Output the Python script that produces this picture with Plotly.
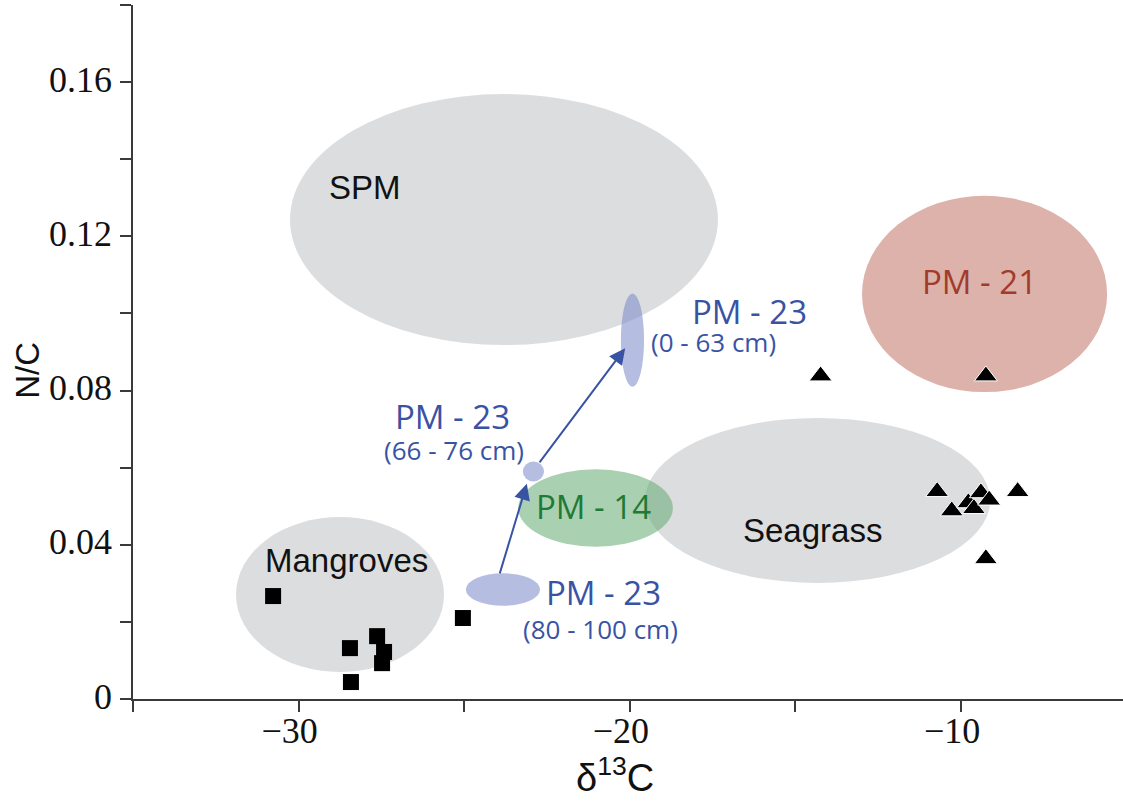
import plotly.graph_objects as go

# ---- data ----
mangrove_x = [-30.77, -28.45, -28.42, -27.63, -27.42, -27.48, -25.04]
mangrove_y = [0.0267, 0.0132, 0.0044, 0.0163, 0.0122, 0.0093, 0.0210]

seagrass_x = [-14.24, -9.25, -10.72, -10.28, -9.78, -9.61, -9.40, -9.15, -8.29, -9.25]
seagrass_y = [0.0838, 0.0838, 0.0538, 0.0488, 0.0509, 0.0494, 0.0535, 0.0516, 0.0538, 0.0364]

# ellipse regions: name, x0, x1, y0, y1
region_names = ["SPM", "Mangroves", "Seagrass", "PM-21", "PM-14",
                "PM-23 80-100", "PM-23 66-76", "PM-23 0-63"]
region_x0 = [-30.26, -31.89, -19.54, -12.99, -23.37, -24.95, -23.23, -20.27]
region_x1 = [-17.34, -25.61, -9.12, -5.59, -18.70, -22.71, -22.59, -19.57]
region_y0 = [0.0918, 0.0070, 0.0301, 0.0796, 0.0395, 0.0242, 0.0564, 0.0810]
region_y1 = [0.1569, 0.0472, 0.0729, 0.1305, 0.0596, 0.0326, 0.0616, 0.1052]

# arrows (start -> end) between PM-23 depth groups
arrow_x0 = [-23.94, -22.76]
arrow_y0 = [0.0322, 0.0610]
arrow_x1 = [-23.11, -20.14]
arrow_y1 = [0.0558, 0.0910]

x_tickvals = [-35, -30, -25, -20, -15, -10]
x_ticktext = ["", "\u221230", "", "\u221220", "", "\u221210"]
y_tickvals = [0, 0.02, 0.04, 0.06, 0.08, 0.10, 0.12, 0.14, 0.16, 0.18]
y_ticktext = ["0", "", "0.04", "", "0.08", "", "0.12", "", "0.16", ""]

# ---- styles ----
GREY = "rgb(220,221,223)"
fills = {
    "SPM": GREY,
    "Mangroves": GREY,
    "Seagrass": GREY,
    "PM-21": "rgb(220,178,170)",
    "PM-14": "rgba(100,170,115,0.55)",
    "PM-23 80-100": "rgba(120,135,200,0.55)",
    "PM-23 66-76": "rgba(120,135,200,0.55)",
    "PM-23 0-63": "rgba(120,135,200,0.55)",
}
BLUE = "#3953a4"
AXIS = "#3a3a3a"

fig = go.Figure()

for name, x0, x1, y0, y1 in zip(region_names, region_x0, region_x1, region_y0, region_y1):
    fig.add_shape(type="circle", xref="x", yref="y", x0=x0, x1=x1, y0=y0, y1=y1,
                  fillcolor=fills[name], line=dict(width=0), layer="below")

fig.add_trace(go.Scatter(x=mangrove_x, y=mangrove_y, mode="markers",
                         marker=dict(symbol="square", size=16, color="black",
                                     line=dict(width=0)),
                         showlegend=False, hoverinfo="skip"))
fig.add_trace(go.Scatter(x=seagrass_x, y=seagrass_y, mode="markers",
                         marker=dict(symbol="triangle-up", size=20, color="black",
                                     line=dict(width=1, color="white")),
                         showlegend=False, hoverinfo="skip"))

annotations = []
for xs, ys, xe, ye in zip(arrow_x0, arrow_y0, arrow_x1, arrow_y1):
    annotations.append(dict(x=xe, y=ye, ax=xs, ay=ys, xref="x", yref="y",
                            axref="x", ayref="y", showarrow=True, arrowhead=2,
                            arrowsize=1.6, arrowwidth=2, arrowcolor=BLUE,
                            standoff=0, startstandoff=0, text=""))

black_font = dict(family="Liberation Sans, Arial, sans-serif", size=33, color="#111")
labels = [
    ("SPM", -28.00, 0.1326, black_font),
    ("Mangroves", -28.54, 0.0358, black_font),
    ("Seagrass", -14.47, 0.0436, black_font),
    ("PM - 21", -9.43, 0.1082, dict(family="Open Sans", size=33, color="#a23b2c")),
    ("PM - 14", -21.11, 0.0498, dict(family="Open Sans", size=33, color="#1f7a35")),
    ("PM - 23", -16.40, 0.1004, dict(family="Open Sans", size=33, color=BLUE)),
    ("(0 - 63 cm)", -17.46, 0.0926, dict(family="Open Sans", size=26, color=BLUE)),
    ("PM - 23", -25.35, 0.0734, dict(family="Open Sans", size=33, color=BLUE)),
    ("(66 - 76 cm)", -25.31, 0.0646, dict(family="Open Sans", size=26, color=BLUE)),
    ("PM - 23", -20.78, 0.0275, dict(family="Open Sans", size=33, color=BLUE)),
    ("(80 - 100 cm)", -20.90, 0.0182, dict(family="Open Sans", size=26, color=BLUE)),
]
for t, x, y, f in labels:
    annotations.append(dict(text=t, x=x, y=y, xref="x", yref="y", showarrow=False,
                            font=f, xanchor="center", yanchor="middle"))

# axis titles
annotations.append(dict(text="N/C", x=-0.106, y=0.473, xref="paper", yref="paper",
                        showarrow=False, textangle=-90,
                        font=dict(family="Liberation Sans, Arial, sans-serif", size=33, color="#111"),
                        xanchor="center", yanchor="middle"))
annotations.append(dict(text="\u03b4<sup>13</sup>C", x=0.487, y=-0.109, xref="paper", yref="paper",
                        showarrow=False,
                        font=dict(family="Liberation Sans, Arial, sans-serif", size=38, color="#111"),
                        xanchor="center", yanchor="middle"))

fig.update_layout(
    width=1123, height=804,
    margin=dict(l=133, r=0, t=5, b=105),
    paper_bgcolor="white", plot_bgcolor="white",
    showlegend=False,
    annotations=annotations,
    xaxis=dict(range=[-35, -5.11], showgrid=False, zeroline=False,
               showline=True, linecolor=AXIS, linewidth=1.5,
               ticks="outside", ticklen=11, tickwidth=1.5, tickcolor=AXIS,
               tickmode="array", tickvals=x_tickvals, ticktext=x_ticktext,
               tickfont=dict(family="Liberation Serif, Times New Roman, serif", size=36, color="#111"),
               ticklabelshift=-9, ticklabelstandoff=-12),
    yaxis=dict(range=[0, 0.18], showgrid=False, zeroline=False,
               showline=True, linecolor=AXIS, linewidth=1.5,
               ticks="outside", ticklen=11, tickwidth=1.5, tickcolor=AXIS,
               tickmode="array", tickvals=y_tickvals, ticktext=y_ticktext,
               tickfont=dict(family="Liberation Serif, Times New Roman, serif", size=36, color="#111"),
               ticklabelshift=-3, ticklabelstandoff=1),
)

fig.write_html("out.html")
